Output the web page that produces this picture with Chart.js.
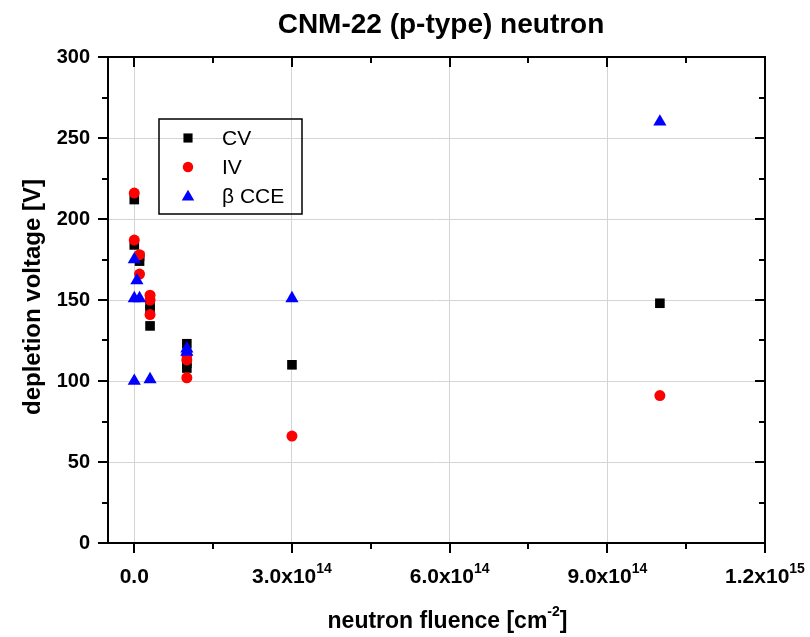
<!DOCTYPE html>
<html>
<head>
<meta charset="utf-8">
<script src="https://cdn.jsdelivr.net/npm/chart.js@4.4.1/dist/chart.umd.min.js"></script>
<style>
  html, body { margin: 0; padding: 0; background: #ffffff; }
  #c { display: block; }
</style>
</head>
<body>
<canvas id="c" width="810" height="637"></canvas>
<script>
// ---- data ----
const chartTitle = 'CNM-22 (p-type) neutron';
const yTitle = 'depletion voltage [V]';
const xTitleBase = 'neutron fluence [cm';
const xTitleExp = '-2';
const xTitleEnd = ']';

const seriesNames = ['CV', 'IV', '\u03B2 CCE'];

const cvFluence = [0, 0, 1e13, 1e13, 3e13, 3e13, 3e13, 1e14, 1e14, 1e14, 3e14, 1e15];
const cvVoltage = [212, 184, 177, 174, 147, 144, 134, 123, 111, 108, 110, 148];

const ivFluence = [0, 0, 1e13, 1e13, 3e13, 3e13, 3e13, 1e14, 1e14, 1e14, 3e14, 1e15];
const ivVoltage = [216, 187, 178, 166, 153, 150, 141, 116, 113, 102, 66, 91];

const cceFluence = [0, 0, 0, 5e12, 1e13, 3e13, 1e14, 1e14, 3e14, 1e15];
const cceVoltage = [175, 151, 100, 162, 151, 101, 120, 118, 151, 260];

const xMajorTicks = [0, 3e14, 6e14, 9e14, 1.2e15];
const xMinorTicks = [1.5e14, 4.5e14, 7.5e14, 1.05e15];
const xTickBase = ['0.0', '3.0x10', '6.0x10', '9.0x10', '1.2x10'];
const xTickExp = ['', '14', '14', '14', '15'];
const yMajorTicks = [0, 50, 100, 150, 200, 250, 300];
const yMinorTicks = [25, 75, 125, 175, 225, 275];

const X_MIN = -5e13, X_MAX = 1.2e15, Y_MIN = 0, Y_MAX = 300;

function toPoints(xs, ys) { return xs.map((x, i) => ({ x: x, y: ys[i] })); }

const FONT = 'Arial, "Liberation Sans", sans-serif';

const styles = [
  { color: '#000000', shape: 'rect', radius: 6.8 },
  { color: '#ff0000', shape: 'circle', radius: 5.5 },
  { color: '#0000ff', shape: 'triangle', radius: 7.6 }
];

const decorPlugin = {
  id: 'decor',
  afterDraw(chart) {
    const ctx = chart.ctx;
    const a = chart.chartArea;
    const xs = chart.scales.x, ys = chart.scales.y;
    ctx.save();
    // frame
    ctx.strokeStyle = '#000';
    ctx.lineWidth = 2;
    ctx.strokeRect(a.left, a.top, a.right - a.left, a.bottom - a.top);
    ctx.beginPath();
    // x ticks: bottom outward, top inward
    xMajorTicks.forEach(v => {
      const p = Math.round(xs.getPixelForValue(v));
      ctx.moveTo(p, a.bottom); ctx.lineTo(p, a.bottom + 10);
      ctx.moveTo(p, a.top); ctx.lineTo(p, a.top + 10);
    });
    xMinorTicks.forEach(v => {
      const p = Math.round(xs.getPixelForValue(v));
      ctx.moveTo(p, a.bottom); ctx.lineTo(p, a.bottom + 6);
      ctx.moveTo(p, a.top); ctx.lineTo(p, a.top + 6);
    });
    // y ticks: left outward, right inward
    yMajorTicks.forEach(v => {
      const p = Math.round(ys.getPixelForValue(v));
      ctx.moveTo(a.left, p); ctx.lineTo(a.left - 10, p);
      ctx.moveTo(a.right, p); ctx.lineTo(a.right - 10, p);
    });
    yMinorTicks.forEach(v => {
      const p = Math.round(ys.getPixelForValue(v));
      ctx.moveTo(a.left, p); ctx.lineTo(a.left - 6, p);
      ctx.moveTo(a.right, p); ctx.lineTo(a.right - 6, p);
    });
    ctx.stroke();

    // x tick labels with superscripts
    ctx.fillStyle = '#000';
    ctx.textBaseline = 'alphabetic';
    ctx.textAlign = 'left';
    const baseFont = 'bold 21px ' + FONT;
    const supFont = 'bold 14px ' + FONT;
    xMajorTicks.forEach((v, i) => {
      const p = xs.getPixelForValue(v);
      ctx.font = baseFont;
      const wb = ctx.measureText(xTickBase[i]).width;
      ctx.font = supFont;
      const we = xTickExp[i] ? ctx.measureText(xTickExp[i]).width : 0;
      const start = p - (wb + we) / 2;
      ctx.font = baseFont;
      ctx.fillText(xTickBase[i], start, a.bottom + 40);
      if (xTickExp[i]) {
        ctx.font = supFont;
        ctx.fillText(xTickExp[i], start + wb, a.bottom + 30);
      }
    });

    // x axis title
    ctx.font = 'bold 23px ' + FONT;
    const w1 = ctx.measureText(xTitleBase).width;
    const w3 = ctx.measureText(xTitleEnd).width;
    ctx.font = 'bold 14px ' + FONT;
    const w2 = ctx.measureText(xTitleExp).width;
    const cx = (a.left + a.right) / 2 + 11;
    let sx = cx - (w1 + w2 + w3) / 2;
    const ty = 628;
    ctx.font = 'bold 23px ' + FONT;
    ctx.fillText(xTitleBase, sx, ty);
    ctx.font = 'bold 14px ' + FONT;
    ctx.fillText(xTitleExp, sx + w1, ty - 12);
    ctx.font = 'bold 23px ' + FONT;
    ctx.fillText(xTitleEnd, sx + w1 + w2, ty);

    // y axis title
    ctx.save();
    ctx.translate(40, (a.top + a.bottom) / 2 - 3);
    ctx.rotate(-Math.PI / 2);
    ctx.textAlign = 'center';
    ctx.font = 'bold 24px ' + FONT;
    ctx.fillText(yTitle, 0, 0);
    ctx.restore();

    // chart title
    ctx.textAlign = 'center';
    ctx.font = 'bold 28px ' + FONT;
    ctx.fillText(chartTitle, 441, 33);

    // legend
    const lx = 159, ly = 119;
    ctx.lineWidth = 1.5;
    ctx.strokeStyle = '#000';
    ctx.strokeRect(lx, ly, 143, 95);
    const rows = [138, 167, 196];
    ctx.textAlign = 'left';
    ctx.textBaseline = 'middle';
    ctx.font = '21px ' + FONT;
    seriesNames.forEach((name, i) => {
      const st = styles[i];
      ctx.fillStyle = st.color;
      ctx.strokeStyle = st.color;
      ctx.lineWidth = 1;
      Chart.helpers.drawPoint(ctx, { pointStyle: st.shape, radius: st.radius * 0.95, rotation: 0, borderWidth: 0 }, lx + 29, rows[i] + (st.shape === 'triangle' ? 1 : 0));
      ctx.fillStyle = '#000';
      ctx.fillText(name, lx + 63, rows[i] + 1);
    });
    ctx.restore();
  }
};

const datasets = [
  { label: seriesNames[0], data: toPoints(cvFluence, cvVoltage), order: 3 },
  { label: seriesNames[1], data: toPoints(ivFluence, ivVoltage), order: 2 },
  { label: seriesNames[2], data: toPoints(cceFluence, cceVoltage), order: 1 }
].map((d, i) => Object.assign(d, {
  pointStyle: styles[i].shape,
  pointRadius: styles[i].radius,
  pointHoverRadius: styles[i].radius,
  backgroundColor: styles[i].color,
  borderColor: styles[i].color,
  pointBorderWidth: 0,
  showLine: false
}));

new Chart(document.getElementById('c'), {
  type: 'scatter',
  data: { datasets: datasets },
  options: {
    responsive: false,
    animation: false,
    devicePixelRatio: 1,
    layout: { padding: { top: 57, right: 45, left: 0, bottom: 0 } },
    plugins: { legend: { display: false }, tooltip: { enabled: false }, title: { display: false } },
    scales: {
      x: {
        type: 'linear',
        min: X_MIN, max: X_MAX,
        afterBuildTicks: s => { s.ticks = xMajorTicks.map(v => ({ value: v })); },
        afterFit: s => { s.height = 94; },
        ticks: { display: false },
        border: { display: false },
        grid: { color: '#d4d4d4', lineWidth: 1, drawTicks: false }
      },
      y: {
        type: 'linear',
        min: Y_MIN, max: Y_MAX,
        afterBuildTicks: s => { s.ticks = yMajorTicks.map(v => ({ value: v })); },
        afterFit: s => { s.width = 108; },
        ticks: { color: '#000', padding: 18, font: { family: FONT, size: 20, weight: 'bold' } },
        border: { display: false },
        grid: { color: '#d4d4d4', lineWidth: 1, drawTicks: false }
      }
    }
  },
  plugins: [decorPlugin]
});
</script>
</body>
</html>
